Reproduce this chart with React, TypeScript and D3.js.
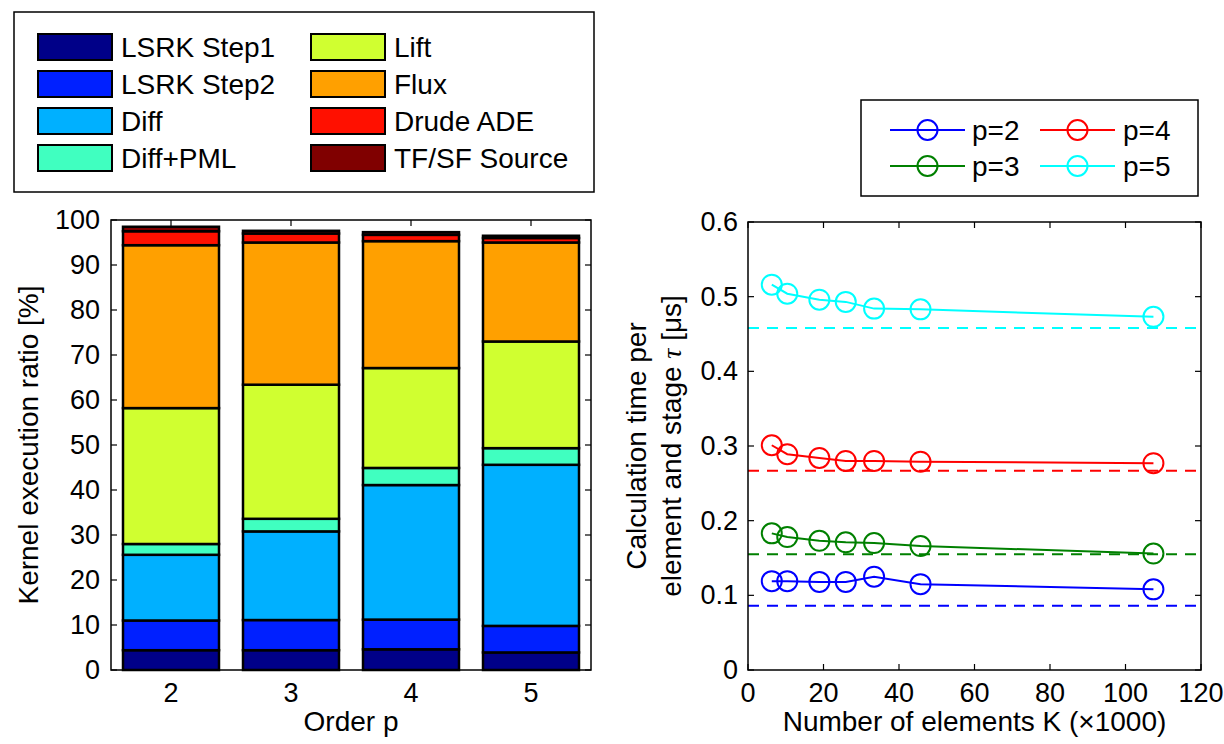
import React from "react";
import * as d3 from "d3";

// ---- Left chart data (kernel execution ratio, %) ----
const orders = [2, 3, 4, 5];
const kernelNames = ["LSRK Step1", "LSRK Step2", "Diff", "Diff+PML", "Lift", "Flux", "Drude ADE", "TF/SF Source"];
const kernelColors = ["#000088", "#0020FF", "#00B0FF", "#40FFC0", "#D0FF30", "#FFA000", "#FF1000", "#800000"];
const lsrk1 = [4.4, 4.4, 4.6, 3.9];
const lsrk2 = [6.6, 6.7, 6.6, 5.9];
const diff = [14.6, 19.7, 29.9, 35.8];
const diffPml = [2.4, 2.8, 3.8, 3.7];
const lift = [30.2, 29.8, 22.2, 23.7];
const flux = [36.2, 31.6, 28.2, 22.0];
const drude = [3.1, 2.0, 1.4, 1.0];
const tfsf = [1.0, 0.6, 0.6, 0.5];
const leftYTicks = [0, 10, 20, 30, 40, 50, 60, 70, 80, 90, 100];

// ---- Right chart data (tau in microseconds) ----
const elementsK = [6.3, 10.4, 18.9, 25.9, 33.4, 45.7, 107.4];
const tauP2 = [0.119, 0.119, 0.118, 0.118, 0.125, 0.115, 0.108];
const tauP3 = [0.183, 0.178, 0.173, 0.171, 0.17, 0.166, 0.156];
const tauP4 = [0.301, 0.289, 0.284, 0.28, 0.28, 0.279, 0.277];
const tauP5 = [0.516, 0.504, 0.496, 0.493, 0.484, 0.483, 0.473];
const idealTau = [0.086, 0.155, 0.267, 0.458];
const seriesNames = ["p=2", "p=3", "p=4", "p=5"];
const seriesColors = ["#0000FF", "#008000", "#FF0000", "#00FFFF"];
const rightXTicks = [0, 20, 40, 60, 80, 100, 120];
const rightYTicks = [0, 0.1, 0.2, 0.3, 0.4, 0.5, 0.6];

const FONT = "'Liberation Sans', Arial, Helvetica, sans-serif";
const FS = 27;

export default function App() {
  // Left axes
  const L = { x0: 111, x1: 591, y0: 670, y1: 220 };
  const xb = d3.scaleBand<number>().domain(orders).range([L.x0, L.x1]).paddingInner(0.2).paddingOuter(0.1);
  const yl = d3.scaleLinear().domain([0, 100]).range([L.y0, L.y1]);
  const kernels = [lsrk1, lsrk2, diff, diffPml, lift, flux, drude, tfsf];
  const table = orders.map((o, i) => {
    const row: any = { order: o };
    kernelNames.forEach((k, j) => (row[k] = kernels[j][i]));
    return row;
  });
  const stacked = d3.stack<any>().keys(kernelNames)(table);

  // Right axes
  const R = { x0: 748, x1: 1201, y0: 670, y1: 222 };
  const xr = d3.scaleLinear().domain([0, 120]).range([R.x0, R.x1]);
  const yr = d3.scaleLinear().domain([0, 0.6]).range([R.y0, R.y1]);
  const series = [tauP2, tauP3, tauP4, tauP5];
  const line = d3
    .line<number>()
    .x((_, i) => xr(elementsK[i]))
    .y((d) => yr(d));

  const tl = 6;

  return (
    <svg
      width={1224}
      height={744}
      style={{ position: "absolute", left: 0, top: 0, background: "#fff" }}
      fontFamily={FONT}
    >
      <rect x={0} y={0} width={1224} height={744} fill="#fff" />

      {/* ===== Legend left ===== */}
      <rect x={14} y={12} width={580} height={180} fill="#fff" stroke="#000" strokeWidth={1.5} />
      {kernelNames.map((name, i) => {
        const col = Math.floor(i / 4);
        const row = i % 4;
        const cy = 47 + row * 37;
        const sx = col === 0 ? 38 : 311;
        const tx = col === 0 ? 121 : 394;
        return (
          <g key={name}>
            <rect x={sx} y={cy - 13} width={74} height={26} fill={kernelColors[i]} stroke="#000" strokeWidth={2} />
            <text x={tx} y={cy} dominantBaseline="central" fontSize={28}>
              {name}
            </text>
          </g>
        );
      })}

      {/* ===== Left chart ===== */}
      {/* ticks */}
      {leftYTicks.map((t) => (
        <g key={"lyt" + t}>
          <line x1={L.x0} x2={L.x0 + tl} y1={yl(t)} y2={yl(t)} stroke="#000" strokeWidth={1.2} />
          <line x1={L.x1} x2={L.x1 - tl} y1={yl(t)} y2={yl(t)} stroke="#000" strokeWidth={1.2} />
          <text x={100} y={yl(t)} textAnchor="end" dominantBaseline="central" fontSize={FS}>
            {t}
          </text>
        </g>
      ))}
      {orders.map((o) => {
        const cx = (xb(o) as number) + xb.bandwidth() / 2;
        return (
          <g key={"lxt" + o}>
            <line x1={cx} x2={cx} y1={L.y1} y2={L.y1 + tl} stroke="#000" strokeWidth={1.2} />
            <line x1={cx} x2={cx} y1={L.y0} y2={L.y0 - tl} stroke="#000" strokeWidth={1.2} />
            <text x={cx} y={702} textAnchor="middle" fontSize={FS}>
              {o}
            </text>
          </g>
        );
      })}
      {/* bars */}
      {stacked.map((s, j) => (
        <g key={"stk" + j}>
          {s.map((d, i) => (
            <rect
              key={i}
              x={xb(orders[i]) as number}
              width={xb.bandwidth()}
              y={yl(d[1])}
              height={yl(d[0]) - yl(d[1])}
              fill={kernelColors[j]}
              stroke="#000"
              strokeWidth={2.5}
            />
          ))}
        </g>
      ))}
      <rect x={L.x0} y={L.y1} width={L.x1 - L.x0} height={L.y0 - L.y1} fill="none" stroke="#000" strokeWidth={1.5} />
      <text x={(L.x0 + L.x1) / 2} y={731} textAnchor="middle" fontSize={28}>
        Order p
      </text>
      <text
        transform={`translate(38,${(L.y0 + L.y1) / 2}) rotate(-90)`}
        textAnchor="middle"
        fontSize={28}
      >
        Kernel execution ratio [%]
      </text>

      {/* ===== Right chart ===== */}
      {rightYTicks.map((t) => (
        <g key={"ryt" + t}>
          <line x1={R.x0} x2={R.x0 + tl} y1={yr(t)} y2={yr(t)} stroke="#000" strokeWidth={1.2} />
          <line x1={R.x1} x2={R.x1 - tl} y1={yr(t)} y2={yr(t)} stroke="#000" strokeWidth={1.2} />
          <text x={738} y={yr(t)} textAnchor="end" dominantBaseline="central" fontSize={FS}>
            {t === 0 ? "0" : t.toFixed(1)}
          </text>
        </g>
      ))}
      {rightXTicks.map((t) => (
        <g key={"rxt" + t}>
          <line x1={xr(t)} x2={xr(t)} y1={R.y0} y2={R.y0 - tl} stroke="#000" strokeWidth={1.2} />
          <line x1={xr(t)} x2={xr(t)} y1={R.y1} y2={R.y1 + tl} stroke="#000" strokeWidth={1.2} />
          <text x={xr(t)} y={702} textAnchor="middle" fontSize={FS}>
            {t}
          </text>
        </g>
      ))}
      {/* ideal dashed lines */}
      {idealTau.map((v, i) => (
        <line
          key={"ideal" + i}
          x1={xr(0)}
          x2={xr(120)}
          y1={yr(v)}
          y2={yr(v)}
          stroke={seriesColors[i]}
          strokeWidth={2}
          strokeDasharray="11 8"
        />
      ))}
      {/* measured lines */}
      {series.map((s, i) => (
        <g key={"ser" + i}>
          <path d={line(s) || ""} fill="none" stroke={seriesColors[i]} strokeWidth={2} />
          {s.map((v, k) => (
            <circle key={k} cx={xr(elementsK[k])} cy={yr(v)} r={10} fill="none" stroke={seriesColors[i]} strokeWidth={2} />
          ))}
        </g>
      ))}
      <rect x={R.x0} y={R.y1} width={R.x1 - R.x0} height={R.y0 - R.y1} fill="none" stroke="#000" strokeWidth={1.5} />
      <text x={(R.x0 + R.x1) / 2} y={731} textAnchor="middle" fontSize={28}>
        Number of elements K (×1000)
      </text>
      <text
        transform={`translate(646,${(R.y0 + R.y1) / 2}) rotate(-90)`}
        textAnchor="middle"
        fontSize={28}
      >
        Calculation time per
      </text>
      <text
        transform={`translate(681,${(R.y0 + R.y1) / 2}) rotate(-90)`}
        textAnchor="middle"
        fontSize={28}
      >
        element and stage{" "}
        <tspan fontFamily="'Liberation Serif', 'DejaVu Serif', serif" fontStyle="italic">
          τ
        </tspan>{" "}
        [μs]
      </text>

      {/* ===== Legend right ===== */}
      <rect x={861} y={100} width={337} height={96} fill="#fff" stroke="#000" strokeWidth={1.5} />
      {seriesNames.map((name, i) => {
        const col = Math.floor(i / 2);
        const row = i % 2;
        const cy = 130 + row * 36;
        const lx0 = col === 0 ? 890 : 1040;
        const tx = col === 0 ? 972 : 1123;
        return (
          <g key={name}>
            <line x1={lx0} x2={lx0 + 75} y1={cy} y2={cy} stroke={seriesColors[i]} strokeWidth={2} />
            <circle cx={lx0 + 37.5} cy={cy} r={10} fill="none" stroke={seriesColors[i]} strokeWidth={2} />
            <text x={tx} y={cy} dominantBaseline="central" fontSize={28}>
              {name}
            </text>
          </g>
        );
      })}
    </svg>
  );
}
